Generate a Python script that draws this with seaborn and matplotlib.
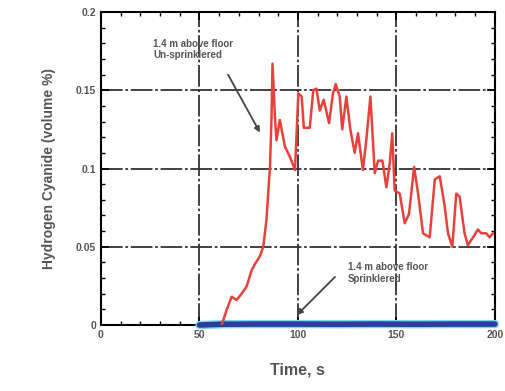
import numpy as np
import pandas as pd
import matplotlib
matplotlib.use("Agg")
import matplotlib.pyplot as plt
import seaborn as sns
from matplotlib.ticker import MultipleLocator

# un-sprinklered, 1.4 m above floor
unspr_time = [61.3, 63.8, 66.3, 68.9, 71.4, 73.9, 76.5, 78.2, 80.7, 82.4, 84.0, 85.8,
              86.6, 87.1, 88.3, 89.1, 90.8, 93.4, 95.9, 98.5, 100.2, 101.9, 103.0,
              106.0, 107.8, 109.4, 111.1, 113.1, 115.8, 117.8, 119.2, 121.2, 122.5,
              124.6, 126.6, 128.8, 130.5, 133.0, 134.7, 136.8, 139.0, 140.7, 142.9,
              144.9, 146.6, 147.9, 149.1, 151.7, 154.2, 156.4, 159.0, 161.0, 163.5,
              166.9, 169.5, 172.0, 174.5, 176.2, 178.4, 180.4, 182.1, 184.6, 186.3,
              188.9, 191.4, 193.1, 195.6, 197.3, 199.0]
unspr_hcn = [0, 0.0096, 0.018, 0.016, 0.020, 0.0245, 0.035, 0.039, 0.044, 0.050,
             0.067, 0.101, 0.133, 0.167, 0.133, 0.118, 0.131, 0.114, 0.1075, 0.099,
             0.148, 0.146, 0.126, 0.126, 0.150, 0.151, 0.137, 0.144, 0.129, 0.148,
             0.154, 0.146, 0.125, 0.146, 0.125, 0.110, 0.1225, 0.099, 0.118, 0.146,
             0.097, 0.105, 0.105, 0.088, 0.103, 0.1225, 0.086, 0.084, 0.065, 0.071,
             0.101, 0.084, 0.0586, 0.056, 0.093, 0.095, 0.076, 0.0586, 0.050, 0.084,
             0.082, 0.0586, 0.051, 0.056, 0.061, 0.0586, 0.0586, 0.056, 0.0586]

# sprinklered, 1.4 m above floor
spr_time = [50, 62, 80, 100, 120, 140, 160, 180, 200]
spr_hcn = [0, 0.0005, 0.0006, 0.0006, 0.0005, 0.0006, 0.0005, 0.0006, 0.0006]

x_ticks = [0, 50, 100, 150, 200]
y_ticks = [0, 0.05, 0.1, 0.15, 0.2]
y_tick_labels = ["0", "0.05", "0.1", "0.15", "0.2"]

df_un = pd.DataFrame({"Time": unspr_time, "HCN": unspr_hcn})
df_sp = pd.DataFrame({"Time": spr_time, "HCN": spr_hcn})

sns.set_style("ticks")
plt.rcParams["font.family"] = ["Liberation Sans", "DejaVu Sans"]
txt = "#555555"

fig = plt.figure(figsize=(5.06, 3.91), dpi=100)
ax = fig.add_axes([0.1996, 0.1688, 0.7784, 0.8005])

ax.grid(True, which="major", color="#333333", linewidth=1.3,
        linestyle=(0, (12, 1.5, 1.5, 1.5)))
ax.set_axisbelow(True)

sns.lineplot(data=df_sp, x="Time", y="HCN", ax=ax, color="#7fd3e8", linewidth=6,
             zorder=3, clip_on=False)
sns.lineplot(data=df_sp, x="Time", y="HCN", ax=ax, color="#2b3d9c", linewidth=4,
             zorder=4, clip_on=False)
sns.lineplot(data=df_un, x="Time", y="HCN", ax=ax, color="#e8413c", linewidth=1.8, zorder=5)

ax.set_xlim(0, 200)
ax.set_ylim(0, 0.2)
ax.set_xticks(x_ticks)
ax.set_yticks(y_ticks)
ax.set_yticklabels(y_tick_labels)
ax.xaxis.set_minor_locator(MultipleLocator(10))
ax.yaxis.set_minor_locator(MultipleLocator(0.01))
ax.tick_params(which="both", direction="in", top=True, right=True,
               colors="black", labelcolor=txt, labelsize=7.5)
ax.tick_params(which="major", length=6, width=1.2)
ax.tick_params(which="minor", length=3, width=1)
for lab in ax.get_xticklabels() + ax.get_yticklabels():
    lab.set_fontweight("bold")
for sp in ax.spines.values():
    sp.set_visible(True)
    sp.set_linewidth(1.5)
    sp.set_color("black")

ax.set_xlabel("Time, s", fontsize=11.5, fontweight="bold", color=txt, labelpad=16)
ax.set_ylabel("Hydrogen Cyanide (volume %)", fontsize=10, fontweight="bold",
              color=txt, labelpad=14)

arrow = dict(arrowstyle="-|>", color="#444444", lw=1.3, shrinkA=0, shrinkB=0,
             mutation_scale=8)
ax.text(26.4, 0.183, "1.4 m above floor\nUn-sprinklered", fontsize=7,
        fontweight="bold", color=txt, va="top", ha="left")
ax.annotate("", xy=(80.7, 0.123), xytext=(64.5, 0.160), arrowprops=arrow)
ax.text(125.4, 0.040, "1.4 m above floor\nSprinklered", fontsize=7,
        fontweight="bold", color=txt, va="top", ha="left")
ax.annotate("", xy=(99.5, 0.0064), xytext=(118.8, 0.0307), arrowprops=arrow)

fig.savefig("out.png", dpi=100, facecolor="white")
